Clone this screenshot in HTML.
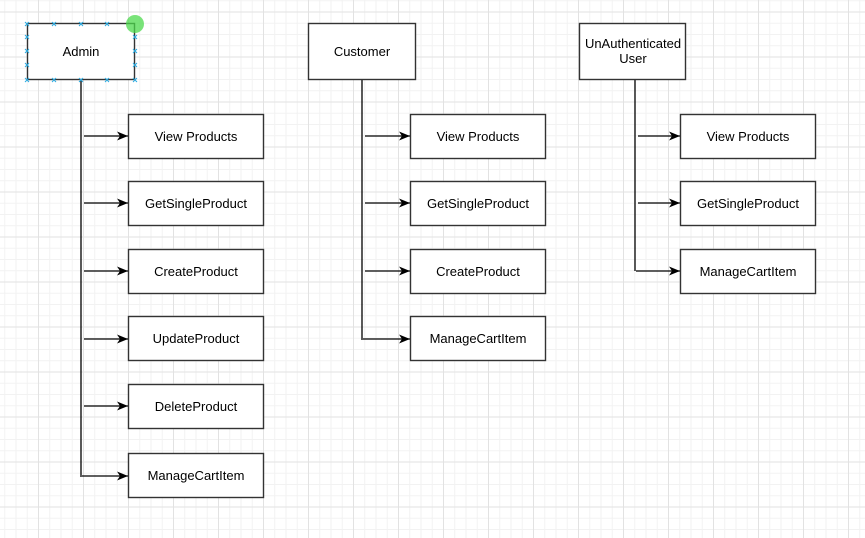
<!DOCTYPE html>
<html><head><style>
html,body{margin:0;padding:0}
body{width:865px;height:538px;overflow:hidden;background:#fff;
background-image:linear-gradient(#e2e2e2 1px,transparent 1px),linear-gradient(90deg,#e2e2e2 1px,transparent 1px),linear-gradient(#f2f2f2 1px,transparent 1px),linear-gradient(90deg,#f2f2f2 1px,transparent 1px);
background-size:45px 45px,45px 45px,11.25px 11.25px,11.25px 11.25px;background-position:38px 11.5px,38px 11.5px,38px 11.5px,38px 11.5px;font-family:"Liberation Sans",Arial,sans-serif}
</style></head><body>
<svg width="865" height="538" style="position:absolute;left:0;top:0" font-family="Liberation Sans, Arial, sans-serif" font-size="13">
<defs><marker id="a" markerWidth="12" markerHeight="12" refX="11" refY="6" orient="auto" markerUnits="userSpaceOnUse"><path d="M0,1.5 L11,6 L0,10.5 L3,6 Z" fill="#000"/></marker></defs>
<g stroke="#000" stroke-width="1.3" fill="none">
<line x1="81" y1="80" x2="81" y2="477"/>
<line x1="362" y1="80" x2="362" y2="340"/>
<line x1="635" y1="80" x2="635" y2="271"/>
</g>
<g stroke="#000" stroke-width="1.3" marker-end="url(#a)">
<line x1="84" y1="136" x2="128" y2="136"/><line x1="84" y1="203" x2="128" y2="203"/><line x1="84" y1="271" x2="128" y2="271"/><line x1="84" y1="339" x2="128" y2="339"/><line x1="84" y1="406" x2="128" y2="406"/><line x1="82" y1="476" x2="128" y2="476"/>
<line x1="365" y1="136" x2="410" y2="136"/><line x1="365" y1="203" x2="410" y2="203"/><line x1="365" y1="271" x2="410" y2="271"/><line x1="363" y1="339" x2="410" y2="339"/>
<line x1="638" y1="136" x2="680" y2="136"/><line x1="638" y1="203" x2="680" y2="203"/><line x1="636" y1="271" x2="680" y2="271"/>
</g>
<g fill="#fff" stroke="#333" stroke-width="1.4">
<rect x="27.5" y="23.5" width="107" height="56"/>
<rect x="308.5" y="23.5" width="107" height="56"/>
<rect x="579.5" y="23.5" width="106" height="56"/>
<rect x="128.5" y="114.5" width="135" height="44"/><rect x="128.5" y="181.5" width="135" height="44"/><rect x="128.5" y="249.5" width="135" height="44"/><rect x="128.5" y="316.5" width="135" height="44"/><rect x="128.5" y="384.5" width="135" height="44"/><rect x="128.5" y="453.5" width="135" height="44"/>
<rect x="410.5" y="114.5" width="135" height="44"/><rect x="410.5" y="181.5" width="135" height="44"/><rect x="410.5" y="249.5" width="135" height="44"/><rect x="410.5" y="316.5" width="135" height="44"/>
<rect x="680.5" y="114.5" width="135" height="44"/><rect x="680.5" y="181.5" width="135" height="44"/><rect x="680.5" y="249.5" width="135" height="44"/>
</g>
<g fill="#000" text-anchor="middle">
<text x="81" y="56">Admin</text><text x="362" y="56">Customer</text>
<text x="633" y="48">UnAuthenticated</text><text x="633" y="63">User</text>
<text x="196" y="141">View Products</text><text x="196" y="208">GetSingleProduct</text><text x="196" y="276">CreateProduct</text><text x="196" y="343">UpdateProduct</text><text x="196" y="411">DeleteProduct</text><text x="196" y="480">ManageCartItem</text>
<text x="478" y="141">View Products</text><text x="478" y="208">GetSingleProduct</text><text x="478" y="276">CreateProduct</text><text x="478" y="343">ManageCartItem</text>
<text x="748" y="141">View Products</text><text x="748" y="208">GetSingleProduct</text><text x="748" y="276">ManageCartItem</text>
</g>
<g stroke="#29abe2" stroke-width="1" fill="none">
<path d="M25,22l4,4m0,-4l-4,4 M52,22l4,4m0,-4l-4,4 M79,22l4,4m0,-4l-4,4 M105,22l4,4m0,-4l-4,4 M25,35l4,4m0,-4l-4,4 M25,49l4,4m0,-4l-4,4 M25,63l4,4m0,-4l-4,4 M25,78l4,4m0,-4l-4,4 M52,78l4,4m0,-4l-4,4 M79,78l4,4m0,-4l-4,4 M105,78l4,4m0,-4l-4,4 M133,78l4,4m0,-4l-4,4 M133,35l4,4m0,-4l-4,4 M133,49l4,4m0,-4l-4,4 M133,63l4,4m0,-4l-4,4"/>
</g>
<circle cx="135" cy="24" r="9" fill="#4cd94c" fill-opacity="0.75"/>
</svg>
</body></html>
